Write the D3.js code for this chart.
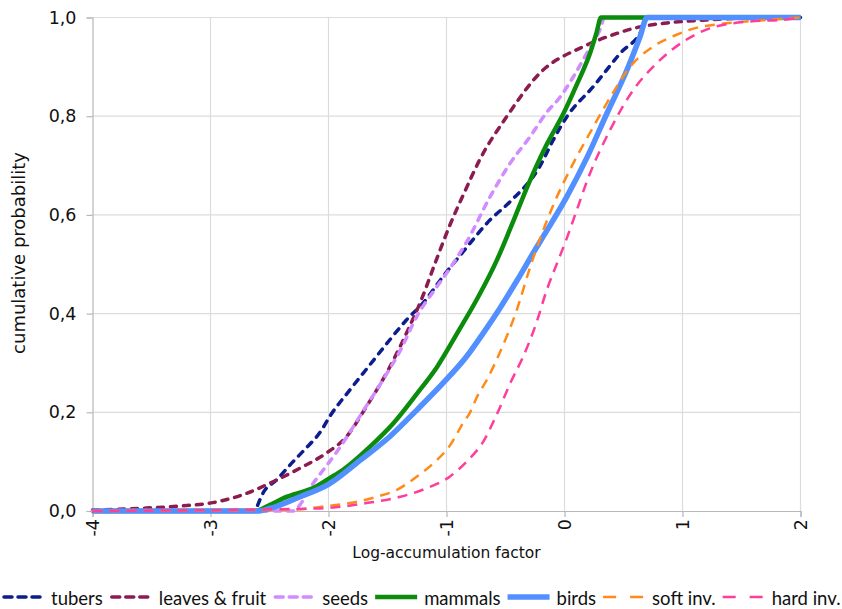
<!DOCTYPE html>
<html>
<head>
<meta charset="utf-8">
<script src="https://cdn.jsdelivr.net/npm/d3@7/dist/d3.min.js"></script>
<style>
  html, body { margin: 0; padding: 0; background: #fff; }
  svg { display: block; }
</style>
</head>
<body>
<svg id="chart" width="842" height="609"></svg>
<script>
// Cumulative distributions of log-accumulation factors, per diet group.
const xTicks = [-4, -3, -2, -1, 0, 1, 2];
const yTicks = [0, 0.2, 0.4, 0.6, 0.8, 1.0];

const tubers = [[-4,0],[-2.62,0],[-2.6,0.012],[-2.56,0.034],[-2.44,0.063],[-2.3,0.1],[-2.2,0.125],
  [-2.07,0.16],[-1.98,0.195],[-1.82,0.245],[-1.65,0.296],[-1.48,0.347],[-1.34,0.387],[-1.2,0.421],
  [-1.03,0.475],[-0.86,0.525],[-0.63,0.59],[-0.46,0.627],[-0.21,0.698],[-0.095,0.752],
  [0.02,0.799],[0.244,0.86],[0.47,0.927],[0.668,0.981],[0.7,1],[2,1]];

const leavesFruit = [[-4,0.002],[-3.83,0.003],[-3.54,0.006],[-3.26,0.01],[-2.98,0.017],[-2.69,0.036],
  [-2.5,0.056],[-2.24,0.087],[-2.02,0.117],[-1.85,0.15],[-1.68,0.211],[-1.48,0.292],[-1.34,0.36],
  [-1.21,0.43],[-1.1,0.5],[-0.97,0.58],[-0.84,0.65],[-0.72,0.711],[-0.49,0.799],[-0.21,0.887],
  [0.16,0.941],[0.41,0.965],[0.64,0.981],[0.87,0.989],[1.2,0.995],[1.6,0.999],[2,1]];

const seeds = [[-4,0],[-2.3,0],[-2.27,0.005],[-2.13,0.056],[-2.0,0.097],[-1.9,0.13],[-1.7,0.205],
  [-1.54,0.265],[-1.39,0.326],[-1.25,0.395],[-1.08,0.455],[-0.97,0.492],[-0.83,0.545],[-0.63,0.637],
  [-0.46,0.705],[-0.29,0.759],[-0.15,0.808],[-0.04,0.838],[0.075,0.88],[0.19,0.928],[0.3,0.975],
  [0.34,1],[2,1]];

const mammals = [[-4,0],[-2.62,0],[-2.5,0.012],[-2.38,0.026],[-2.1,0.05],[-2.0,0.065],[-1.88,0.083],
  [-1.65,0.13],[-1.45,0.178],[-1.25,0.238],[-1.08,0.292],[-0.91,0.36],[-0.74,0.43],
  [-0.57,0.51],[-0.46,0.572],[-0.29,0.671],[-0.15,0.743],[-0.01,0.805],[0.1,0.862],[0.22,0.93],
  [0.27,0.968],[0.31,1],[2,1]];

const birds = [[-4,0],[-2.6,0],[-2.5,0.005],[-2.24,0.029],[-2.0,0.054],[-1.73,0.103],[-1.48,0.151],
  [-1.25,0.205],[-1.03,0.259],[-0.83,0.313],[-0.69,0.36],[-0.55,0.41],[-0.4,0.468],
  [-0.26,0.525],[-0.15,0.568],[0.02,0.637],[0.19,0.716],[0.36,0.806],[0.53,0.894],
  [0.64,0.961],[0.7,1],[2,1]];

const softInv = [[-4,0],[-2.3,0.003],[-2.04,0.009],[-1.82,0.016],[-1.59,0.029],[-1.42,0.043],
  [-1.25,0.07],[-1.11,0.097],[-0.97,0.133],[-0.86,0.178],[-0.8,0.2],[-0.74,0.232],[-0.66,0.265],
  [-0.55,0.32],[-0.405,0.407],[-0.29,0.495],[-0.24,0.53],[-0.1,0.617],[0.075,0.705],[0.22,0.768],
  [0.39,0.839],[0.555,0.9],[0.75,0.941],[0.95,0.965],[1.07,0.976],[1.32,0.987],[1.54,0.992],
  [1.77,0.996],[2,1]];

const hardInv = [[-4,0],[-2.1,0.005],[-1.68,0.016],[-1.39,0.029],[-1.17,0.046],[-0.97,0.07],
  [-0.83,0.1],[-0.69,0.14],[-0.575,0.195],[-0.46,0.259],[-0.35,0.313],[-0.24,0.38],[-0.15,0.448],
  [-0.05,0.51],[0.02,0.553],[0.075,0.59],[0.216,0.684],[0.386,0.772],[0.583,0.853],[0.78,0.907],
  [1.0,0.95],[1.23,0.978],[1.57,0.992],[1.88,0.996],[2,1]];

const seriesNames = ["tubers", "leaves & fruit", "seeds", "mammals", "birds", "soft inv.", "hard inv."];
const seriesData = [tubers, leavesFruit, seeds, mammals, birds, softInv, hardInv];

// Line styles per series: colour, width, dash pattern
const styles = [
  { color: "#0c1d8c", width: 3.5, dash: "6,7", cap: "round" },
  { color: "#8c1c50", width: 3.5, dash: "6,7", cap: "round" },
  { color: "#d18cff", width: 3.5, dash: "6,7", cap: "round" },
  { color: "#0c8c0c", width: 4.5, dash: null, cap: "butt" },
  { color: "#528fff", width: 5.5, dash: null, cap: "butt" },
  { color: "#ff8a1a", width: 2.5, dash: "10,7", cap: "butt" },
  { color: "#ff3d9a", width: 2.5, dash: "10,7", cap: "butt" }
];

const svg = d3.select("#chart");
const margin = { left: 92.5, right: 41.5, top: 17.5, bottom: 98 };
const W = 842, H = 609;

const x = d3.scaleLinear().domain([-4, 2]).range([margin.left, W - margin.right]);
const y = d3.scaleLinear().domain([0, 1]).range([H - margin.bottom, margin.top]);

const font = "'DejaVu Sans', Verdana, sans-serif";

// Gridlines
const grid = svg.append("g");
grid.selectAll("line.v").data(xTicks.slice(1)).join("line")
  .attr("x1", d => x(d)).attr("x2", d => x(d))
  .attr("y1", y(0)).attr("y2", y(1))
  .attr("stroke", "#dcdcdc").attr("stroke-width", 1.2);
grid.selectAll("line.h").data(yTicks.slice(1)).join("line")
  .attr("x1", x(-4)).attr("x2", x(2))
  .attr("y1", d => y(d)).attr("y2", d => y(d))
  .attr("stroke", "#dcdcdc").attr("stroke-width", 1.2);

// Axes
const fmtY = d => d3.format(".1f")(d).replace(".", ",");
const fmtX = d => String(d);
const yAxis = svg.append("g").attr("transform", `translate(${x(-4)},0)`)
  .call(d3.axisLeft(y).tickValues(yTicks).tickSize(6).tickPadding(10).tickFormat(fmtY));
const xAxis = svg.append("g").attr("transform", `translate(0,${y(0)})`)
  .call(d3.axisBottom(x).tickValues(xTicks).tickSize(6).tickFormat(fmtX));

[yAxis, xAxis].forEach(a => {
  a.select(".domain").attr("stroke", "#b8b8b8").attr("stroke-width", 1.2);
  a.selectAll(".tick line").attr("stroke", "#b8b8b8").attr("stroke-width", 1.2);
  a.selectAll("text").attr("fill", "#111").style("font-family", font).style("font-size", "17.5px");
});
xAxis.selectAll(".tick text")
  .attr("transform", "rotate(-90)")
  .attr("x", -8).attr("y", 0).attr("dy", "0.35em")
  .attr("text-anchor", "end");

// Axis titles
svg.append("text")
  .attr("x", x(-1)).attr("y", 558)
  .attr("text-anchor", "middle")
  .style("font-family", font).style("font-size", "15.5px").attr("fill", "#111")
  .text("Log-accumulation factor");
svg.append("text")
  .attr("transform", `translate(25,253) rotate(-90)`)
  .attr("text-anchor", "middle")
  .style("font-family", font).style("font-size", "18px").attr("fill", "#111")
  .text("cumulative probability");

// Series
const line = d3.line().x(d => x(d[0])).y(d => y(d[1])).curve(d3.curveMonotoneX);
const plot = svg.append("g");
seriesData.forEach((data, i) => {
  const s = styles[i];
  plot.append("path")
    .attr("d", line(data))
    .attr("fill", "none")
    .attr("stroke", s.color)
    .attr("stroke-width", s.width)
    .attr("stroke-dasharray", s.dash)
    .attr("stroke-linecap", s.cap)
    .attr("stroke-linejoin", "round");
});

// Legend laid out left to right
const legend = svg.append("g");
let lx = 2;
const ly = 597;
seriesNames.forEach((name, i) => {
  const s = styles[i];
  const markerW = 42;
  legend.append("line")
    .attr("x1", lx + (s.cap === "round" ? 2 : 0)).attr("x2", lx + markerW - (s.cap === "round" ? 2 : 0))
    .attr("y1", ly).attr("y2", ly)
    .attr("stroke", s.color)
    .attr("stroke-width", s.width)
    .attr("stroke-dasharray", s.dash ? (s.cap === "round" ? "8,6" : "13,14") : null)
    .attr("stroke-linecap", s.cap);
  const t = legend.append("text")
    .attr("x", lx + markerW + 7).attr("y", 605)
    .style("font-family", "Lato, 'Open Sans', sans-serif").style("font-size", "18.5px").attr("fill", "#111")
    .text(name);
  lx += markerW + 7 + t.node().getComputedTextLength() + 7;
});
</script>
</body>
</html>
